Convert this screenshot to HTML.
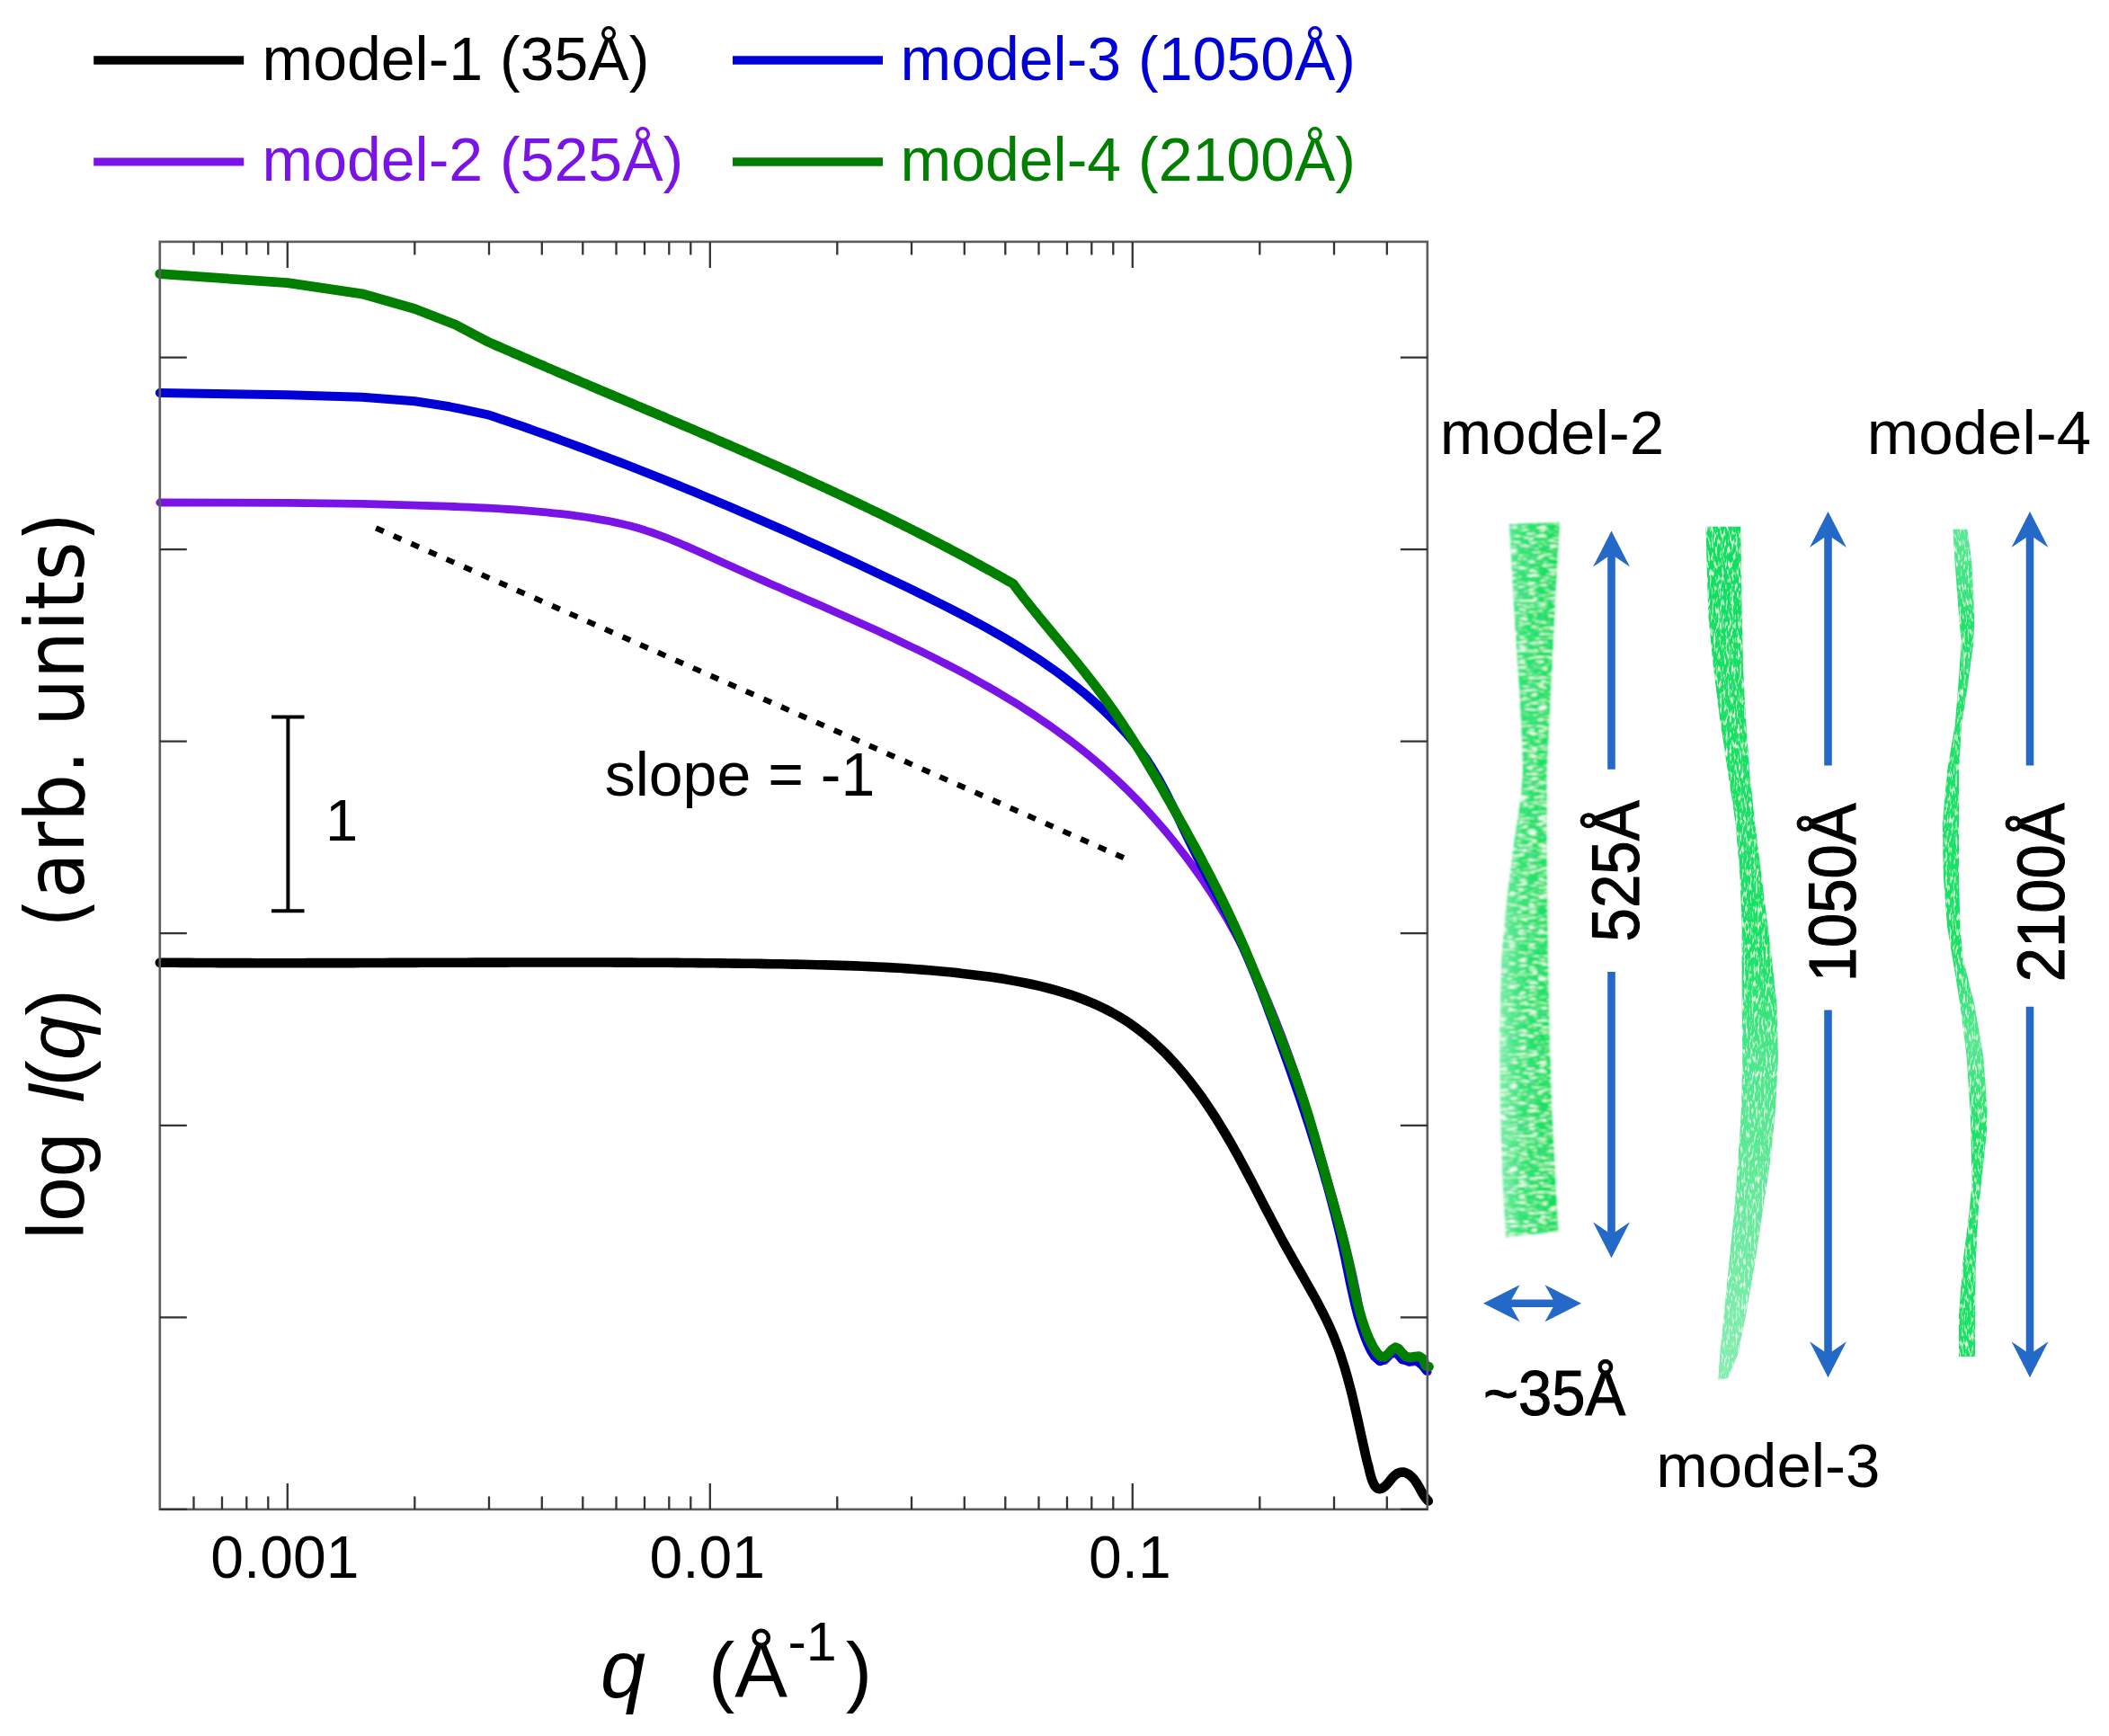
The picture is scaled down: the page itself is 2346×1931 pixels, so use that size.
<!DOCTYPE html>
<html><head><meta charset="utf-8"><title>figure</title><style>html,body{margin:0;padding:0;background:#fff}</style></head><body>
<svg width="2346" height="1931" viewBox="0 0 2346 1931" style="display:block;font-family:'Liberation Sans',sans-serif">
<defs>
<linearGradient id="g2" gradientUnits="userSpaceOnUse" x1="1668" y1="0" x2="1735" y2="0"><stop offset="0" stop-color="#7ceea9"/><stop offset="0.38" stop-color="#2be572"/><stop offset="1" stop-color="#08e05a"/></linearGradient>
<linearGradient id="g3" gradientUnits="userSpaceOnUse" x1="0" y1="586" x2="0" y2="1535"><stop offset="0" stop-color="#10df62"/><stop offset="0.5" stop-color="#16e266"/><stop offset="0.62" stop-color="#48e888"/><stop offset="1" stop-color="#86efb0"/></linearGradient>
<linearGradient id="g4" gradientUnits="userSpaceOnUse" x1="0" y1="588" x2="0" y2="1510"><stop offset="0" stop-color="#5aea94"/><stop offset="0.12" stop-color="#1ee36a"/><stop offset="0.5" stop-color="#14e264"/><stop offset="0.62" stop-color="#55e98f"/><stop offset="0.72" stop-color="#1ee36a"/><stop offset="1" stop-color="#14e264"/></linearGradient>
<filter id="fib2" x="-10%" y="-1%" width="120%" height="102%">
<feTurbulence type="fractalNoise" baseFrequency="0.09 0.43" numOctaves="2" seed="4" result="n"/>
<feColorMatrix in="n" type="matrix" values="0 0 0 0 1  0 0 0 0 1  0 0 0 0 1  5 0 0 0 -2.65" result="w"/>
<feComposite in="w" in2="SourceGraphic" operator="in" result="ww"/>
<feColorMatrix in="n" type="matrix" values="0 0 0 0 0.2  0 0 0 0 0.55  0 0 0 0 0.6  0 0 4 0 -2.5" result="d"/>
<feComposite in="d" in2="SourceGraphic" operator="in" result="dd"/>
<feMerge result="m"><feMergeNode in="SourceGraphic"/><feMergeNode in="dd"/><feMergeNode in="ww"/></feMerge>
<feGaussianBlur in="m" stdDeviation="0.8"/>
</filter>
<filter id="fib3" x="-10%" y="-1%" width="120%" height="102%">
<feTurbulence type="fractalNoise" baseFrequency="0.45 0.12" numOctaves="2" seed="11" result="n"/>
<feColorMatrix in="n" type="matrix" values="0 0 0 0 1  0 0 0 0 1  0 0 0 0 1  3 0 0 0 -1.55" result="w"/>
<feComposite in="w" in2="SourceGraphic" operator="in" result="ww"/>
<feColorMatrix in="n" type="matrix" values="0 0 0 0 0.2  0 0 0 0 0.5  0 0 0 0 0.75  0 0 4 0 -2.55" result="d"/>
<feComposite in="d" in2="SourceGraphic" operator="in" result="dd"/>
<feMerge result="m"><feMergeNode in="SourceGraphic"/><feMergeNode in="dd"/><feMergeNode in="ww"/></feMerge>
<feGaussianBlur in="m" stdDeviation="0.7"/>
</filter>
</defs>
<rect width="2346" height="1931" fill="#fff"/>
<g fill="none" stroke-linejoin="round" stroke-linecap="round">
<path d="M177.8,559.0 L319.9,559.3 L402.6,560.3 L411.2,560.6 L419.9,560.9 L428.5,561.2 L437.1,561.4 L445.6,561.7 L454.2,561.9 L462.7,562.1 L471.3,562.4 L479.8,562.7 L488.3,562.9 L496.8,563.2 L505.3,563.5 L513.8,563.8 L522.3,564.2 L530.8,564.6 L539.3,565.0 L547.8,565.4 L556.3,565.9 L564.8,566.5 L573.3,567.0 L581.9,567.7 L590.4,568.4 L598.9,569.1 L607.5,569.9 L616.0,570.8 L624.6,571.7 L633.2,572.7 L641.8,573.8 L650.4,575.0 L658.9,576.3 L667.5,577.8 L676.0,579.3 L684.4,581.1 L692.8,583.0 L701.2,585.0 L709.4,587.3 L717.6,589.8 L725.6,592.5 L733.6,595.3 L741.5,598.3 L749.3,601.5 L757.1,604.7 L764.9,608.1 L772.6,611.5 L780.4,615.0 L788.1,618.6 L795.8,622.1 L803.5,625.6 L811.3,629.1 L819.1,632.6 L826.9,636.1 L834.7,639.5 L842.5,643.0 L850.3,646.4 L858.2,649.9 L866.1,653.3 L873.9,656.7 L881.8,660.1 L889.7,663.5 L897.6,667.0 L905.5,670.4 L913.4,673.8 L921.2,677.3 L929.1,680.7 L937.0,684.2 L944.9,687.7 L952.8,691.2 L960.6,694.7 L968.5,698.3 L976.3,701.8 L984.1,705.4 L991.9,709.1 L999.7,712.7 L1007.5,716.4 L1015.2,720.1 L1023.0,723.8 L1030.7,727.6 L1038.4,731.4 L1046.0,735.3 L1053.7,739.2 L1061.3,743.2 L1068.8,747.2 L1076.4,751.2 L1083.9,755.3 L1091.3,759.5 L1098.7,763.7 L1106.1,767.9 L1113.5,772.3 L1120.8,776.7 L1128.0,781.1 L1135.3,785.6 L1142.4,790.2 L1149.5,794.8 L1156.6,799.6 L1163.6,804.4 L1170.6,809.2 L1177.5,814.2 L1184.4,819.2 L1191.1,824.3 L1197.9,829.5 L1204.6,834.8 L1211.2,840.1 L1217.7,845.6 L1224.2,851.1 L1230.6,856.8 L1236.9,862.5 L1243.2,868.3 L1249.4,874.2 L1255.5,880.2 L1261.6,886.3 L1267.6,892.4 L1273.5,898.7 L1279.3,905.0 L1285.0,911.4 L1290.7,917.9 L1296.3,924.4 L1301.8,931.0 L1307.2,937.7 L1312.5,944.4 L1317.8,951.3 L1322.9,958.1 L1328.0,965.1 L1333.0,972.1 L1337.9,979.1 L1342.7,986.2 L1347.4,993.4 L1352.0,1000.6 L1356.5,1007.9 L1360.9,1015.2 L1365.3,1022.6 L1369.5,1030.0 L1373.6,1037.4 L1377.7,1044.9 L1381.7,1052.5 L1385.5,1060.1 L1389.3,1067.7 L1393.1,1075.4 L1396.7,1083.1 L1400.3,1090.8 L1403.8,1098.6 L1407.2,1106.4 L1410.5,1114.2 L1413.8,1122.1 L1417.0,1130.0 L1420.2,1137.9 L1423.3,1145.8 L1426.4,1153.8 L1429.3,1161.8 L1432.3,1169.9 L1435.2,1177.9 L1438.0,1186.0 L1440.8,1194.1 L1443.5,1202.2 L1446.2,1210.3 L1448.9,1218.5 L1451.5,1226.6 L1454.1,1234.8 L1456.6,1243.0 L1459.1,1251.2 L1461.6,1259.4 L1464.1,1267.6 L1466.5,1275.9 L1468.9,1284.1 L1471.3,1292.4 L1473.7,1300.6 L1476.1,1308.9 L1478.4,1317.1 L1480.7,1325.4 L1483.1,1333.6 L1485.4,1341.9 L1487.6,1350.1 L1489.9,1358.4 L1492.1,1366.7 L1494.3,1375.0 L1496.4,1383.2 L1498.5,1391.5 L1500.5,1399.8 L1502.5,1408.1 L1504.4,1416.4 L1506.2,1424.7 L1508.0,1433.1 L1509.7,1441.4 L1511.2,1449.8 L1512.7,1458.2 L1514.2,1466.5 L1515.8,1474.9 L1517.9,1483.2 L1520.5,1491.3 L1523.9,1499.3 L1528.3,1507.1 L1534.0,1514.1 L1540.5,1513.6 L1547.4,1506.5 L1553.8,1505.3 L1560.0,1512.0 L1567.4,1515.6 L1575.9,1514.3 L1582.8,1519.2 L1588.2,1526.0" stroke="#7a14e6" stroke-width="8.8"/>
<path d="M177.8,437.0 L319.9,439.2 L402.6,441.7 L461.3,446.2 L500.0,452.3 L541.8,461.1 L549.6,463.6 L557.3,466.2 L565.0,468.8 L572.8,471.5 L580.5,474.1 L588.2,476.8 L595.9,479.6 L603.6,482.3 L611.3,485.0 L618.9,487.8 L626.6,490.6 L634.3,493.4 L641.9,496.2 L649.6,499.0 L657.2,501.9 L664.8,504.8 L672.5,507.7 L680.1,510.6 L687.7,513.5 L695.3,516.4 L702.9,519.4 L710.5,522.3 L718.1,525.3 L725.7,528.3 L733.3,531.4 L740.8,534.4 L748.4,537.5 L755.9,540.5 L763.5,543.6 L771.0,546.7 L778.6,549.8 L786.1,553.0 L793.6,556.1 L801.2,559.3 L808.7,562.4 L816.2,565.6 L823.7,568.8 L831.2,572.1 L838.7,575.3 L846.2,578.6 L853.7,581.8 L861.1,585.1 L868.6,588.4 L876.1,591.7 L883.5,595.0 L891.0,598.4 L898.4,601.7 L905.9,605.1 L913.3,608.5 L920.7,611.8 L928.2,615.3 L935.6,618.7 L943.0,622.1 L950.4,625.6 L957.8,629.0 L965.2,632.5 L972.6,636.0 L980.0,639.5 L987.4,643.0 L994.8,646.5 L1002.2,650.0 L1009.6,653.6 L1016.9,657.1 L1024.3,660.7 L1031.6,664.3 L1039.0,667.9 L1046.3,671.6 L1053.6,675.3 L1060.9,679.0 L1068.2,682.7 L1075.4,686.5 L1082.6,690.3 L1089.8,694.2 L1097.0,698.1 L1104.1,702.1 L1111.2,706.2 L1118.2,710.2 L1125.2,714.4 L1132.2,718.6 L1139.1,722.9 L1145.9,727.3 L1152.8,731.7 L1159.5,736.2 L1166.2,740.8 L1172.9,745.5 L1179.5,750.3 L1186.0,755.2 L1192.4,760.1 L1198.8,765.2 L1205.2,770.3 L1211.4,775.6 L1217.6,781.0 L1223.7,786.5 L1229.7,792.1 L1235.6,797.8 L1241.4,803.6 L1247.0,809.5 L1252.6,815.6 L1257.9,821.8 L1263.1,828.1 L1268.1,834.6 L1272.9,841.2 L1277.5,847.9 L1281.9,854.7 L1286.1,861.7 L1290.1,868.8 L1294.0,875.9 L1297.8,883.1 L1301.4,890.4 L1305.0,897.8 L1308.5,905.2 L1312.0,912.6 L1315.5,920.0 L1319.0,927.4 L1322.6,934.7 L1326.2,942.1 L1329.9,949.4 L1333.6,956.7 L1337.3,963.9 L1341.1,971.2 L1344.9,978.4 L1348.8,985.6 L1352.6,992.8 L1356.4,1000.1 L1360.1,1007.3 L1363.9,1014.5 L1367.6,1021.8 L1371.2,1029.1 L1374.7,1036.4 L1378.2,1043.8 L1381.6,1051.2 L1384.9,1058.7 L1388.2,1066.2 L1391.4,1073.7 L1394.5,1081.2 L1397.6,1088.8 L1400.6,1096.4 L1403.6,1104.0 L1406.5,1111.6 L1409.4,1119.3 L1412.2,1126.9 L1415.1,1134.6 L1417.9,1142.3 L1420.7,1150.0 L1423.5,1157.7 L1426.2,1165.3 L1429.0,1173.0 L1431.7,1180.7 L1434.5,1188.4 L1437.2,1196.1 L1439.9,1203.8 L1442.5,1211.5 L1445.2,1219.2 L1447.8,1227.0 L1450.4,1234.7 L1452.9,1242.4 L1455.5,1250.2 L1458.0,1257.9 L1460.4,1265.7 L1462.9,1273.5 L1465.3,1281.3 L1467.7,1289.1 L1470.0,1296.9 L1472.3,1304.7 L1474.5,1312.6 L1476.8,1320.4 L1478.9,1328.3 L1481.0,1336.2 L1483.1,1344.1 L1485.2,1352.0 L1487.1,1359.9 L1489.1,1367.8 L1491.0,1375.8 L1492.8,1383.8 L1494.6,1391.8 L1496.3,1399.8 L1497.9,1407.9 L1499.6,1415.9 L1501.2,1424.0 L1502.9,1432.0 L1504.7,1440.0 L1506.5,1447.9 L1508.4,1455.8 L1510.5,1463.7 L1512.8,1471.4 L1515.3,1479.1 L1518.0,1486.7 L1521.0,1494.2 L1524.4,1501.5 L1529.0,1508.9 L1535.2,1514.1 L1541.8,1510.3 L1548.1,1503.8 L1553.9,1505.5 L1559.9,1512.4 L1567.5,1513.9 L1575.5,1513.1 L1581.8,1518.4 L1587.0,1524.7" stroke="#0000d6" stroke-width="10"/>
<path d="M177.8,304.7 L319.9,314.7 L402.6,326.8 L461.3,343.5 L506.8,361.2 L541.8,379.8 L544.8,381.1 L547.7,382.4 L550.7,383.7 L553.6,385.0 L556.6,386.3 L559.6,387.6 L562.5,388.9 L565.5,390.1 L568.5,391.4 L571.4,392.7 L574.4,394.0 L577.4,395.3 L580.3,396.6 L583.3,397.9 L586.3,399.1 L589.2,400.4 L592.2,401.7 L595.2,403.0 L598.1,404.3 L601.1,405.5 L604.1,406.8 L607.1,408.1 L610.0,409.4 L613.0,410.6 L616.0,411.9 L619.0,413.2 L621.9,414.4 L624.9,415.7 L627.9,417.0 L630.9,418.3 L633.9,419.5 L636.8,420.8 L639.8,422.1 L642.8,423.3 L645.8,424.6 L648.8,425.9 L651.7,427.1 L654.7,428.4 L657.7,429.7 L660.7,430.9 L663.7,432.2 L666.6,433.5 L669.6,434.7 L672.6,436.0 L675.6,437.3 L678.6,438.5 L681.6,439.8 L684.5,441.0 L687.5,442.3 L690.5,443.6 L693.5,444.8 L696.5,446.1 L699.5,447.4 L702.4,448.6 L705.4,449.9 L708.4,451.2 L711.4,452.4 L714.4,453.7 L717.4,455.0 L720.4,456.2 L723.3,457.5 L726.3,458.8 L729.3,460.0 L732.3,461.3 L735.3,462.6 L738.3,463.8 L741.2,465.1 L744.2,466.4 L747.2,467.7 L750.2,468.9 L753.2,470.2 L756.2,471.5 L759.1,472.7 L762.1,474.0 L765.1,475.3 L768.1,476.6 L771.1,477.8 L774.0,479.1 L777.0,480.4 L780.0,481.7 L783.0,483.0 L786.0,484.2 L788.9,485.5 L791.9,486.8 L794.9,488.1 L797.9,489.4 L800.9,490.7 L803.8,492.0 L806.8,493.2 L809.8,494.5 L812.8,495.8 L815.7,497.1 L818.7,498.4 L821.7,499.7 L824.7,501.0 L827.6,502.3 L830.6,503.6 L833.6,504.9 L836.5,506.2 L839.5,507.5 L842.5,508.8 L845.4,510.1 L848.4,511.4 L851.4,512.7 L854.3,514.1 L857.3,515.4 L860.3,516.7 L863.2,518.0 L866.2,519.3 L869.2,520.6 L872.1,522.0 L875.1,523.3 L878.0,524.6 L881.0,526.0 L884.0,527.3 L886.9,528.6 L889.9,530.0 L892.8,531.3 L895.8,532.6 L898.7,534.0 L901.7,535.3 L904.6,536.7 L907.6,538.0 L910.5,539.4 L913.5,540.7 L916.4,542.1 L919.4,543.4 L922.3,544.8 L925.2,546.1 L928.2,547.5 L931.1,548.9 L934.1,550.2 L937.0,551.6 L939.9,553.0 L942.9,554.4 L945.8,555.7 L948.7,557.1 L951.7,558.5 L954.6,559.9 L957.5,561.3 L960.4,562.7 L963.4,564.1 L966.3,565.5 L969.2,566.9 L972.1,568.3 L975.0,569.7 L978.0,571.1 L980.9,572.5 L983.8,573.9 L986.7,575.4 L989.6,576.8 L992.5,578.2 L995.4,579.6 L998.3,581.1 L1001.2,582.5 L1004.1,583.9 L1007.0,585.4 L1009.9,586.8 L1012.8,588.3 L1015.7,589.7 L1018.6,591.2 L1021.5,592.6 L1024.4,594.1 L1027.3,595.6 L1030.2,597.0 L1033.1,598.5 L1035.9,600.0 L1038.8,601.5 L1041.7,603.0 L1044.6,604.5 L1047.5,605.9 L1050.3,607.4 L1053.2,608.9 L1056.1,610.4 L1058.9,612.0 L1061.8,613.5 L1064.7,615.0 L1067.5,616.5 L1070.4,618.0 L1073.2,619.5 L1076.1,621.1 L1078.9,622.6 L1081.8,624.2 L1084.6,625.7 L1087.5,627.2 L1090.3,628.8 L1093.2,630.4 L1096.0,631.9 L1098.8,633.5 L1101.7,635.1 L1104.5,636.6 L1107.3,638.2 L1110.2,639.8 L1113.0,641.4 L1115.8,643.0 L1118.6,644.6 L1121.4,646.2 L1124.3,647.8 L1127.1,649.4 L1130.1,653.6 L1133.2,657.7 L1136.4,661.8 L1139.5,665.9 L1142.8,669.9 L1146.0,674.0 L1149.2,678.0 L1152.5,682.0 L1155.7,686.0 L1159.0,690.0 L1162.3,694.0 L1165.6,698.0 L1168.9,702.0 L1172.2,706.0 L1175.6,710.0 L1178.9,714.0 L1182.2,717.9 L1185.5,721.9 L1188.8,725.9 L1192.1,729.9 L1195.4,733.9 L1198.7,738.0 L1201.9,742.0 L1205.2,746.0 L1208.4,750.1 L1211.6,754.1 L1214.8,758.2 L1218.0,762.3 L1221.1,766.4 L1224.2,770.5 L1227.3,774.7 L1230.4,778.9 L1233.4,783.1 L1236.4,787.3 L1239.4,791.5 L1242.3,795.7 L1245.2,800.0 L1248.1,804.3 L1250.9,808.6 L1253.8,812.9 L1256.6,817.3 L1259.4,821.6 L1262.1,826.0 L1264.9,830.4 L1267.6,834.8 L1270.3,839.2 L1273.0,843.6 L1275.6,848.0 L1278.3,852.5 L1280.9,856.9 L1283.6,861.4 L1286.2,865.8 L1288.8,870.3 L1291.4,874.8 L1294.0,879.3 L1296.5,883.8 L1299.1,888.3 L1301.7,892.8 L1304.2,897.3 L1306.8,901.8 L1309.3,906.3 L1311.8,910.8 L1314.4,915.4 L1316.9,919.9 L1319.4,924.4 L1321.9,929.0 L1324.4,933.5 L1326.9,938.0 L1329.4,942.6 L1331.8,947.1 L1334.3,951.7 L1336.7,956.3 L1339.1,960.9 L1341.5,965.4 L1343.9,970.0 L1346.3,974.6 L1348.7,979.2 L1351.0,983.8 L1353.4,988.4 L1355.7,993.1 L1358.0,997.7 L1360.3,1002.3 L1362.5,1007.0 L1364.8,1011.7 L1367.0,1016.3 L1369.2,1021.0 L1371.4,1025.7 L1373.6,1030.4 L1375.7,1035.1 L1377.8,1039.8 L1379.9,1044.5 L1382.0,1049.2 L1384.1,1054.0 L1386.1,1058.7 L1388.1,1063.5 L1390.1,1068.2 L1392.1,1073.0 L1394.1,1077.8 L1396.1,1082.6 L1398.0,1087.3 L1400.0,1092.1 L1401.9,1096.9 L1403.8,1101.7 L1405.7,1106.5 L1407.6,1111.3 L1409.5,1116.2 L1411.4,1121.0 L1413.3,1125.8 L1415.2,1130.6 L1417.1,1135.4 L1419.0,1140.2 L1420.8,1145.1 L1422.7,1149.9 L1424.6,1154.7 L1426.5,1159.5 L1428.4,1164.3 L1430.3,1169.2 L1432.1,1174.0 L1434.0,1178.8 L1435.8,1183.7 L1437.7,1188.5 L1439.5,1193.4 L1441.2,1198.2 L1443.0,1203.1 L1444.7,1208.0 L1446.4,1212.9 L1448.0,1217.8 L1449.7,1222.7 L1451.3,1227.6 L1452.8,1232.5 L1454.4,1237.5 L1455.9,1242.4 L1457.4,1247.4 L1458.9,1252.3 L1460.3,1257.3 L1461.8,1262.3 L1463.2,1267.2 L1464.6,1272.2 L1466.1,1277.2 L1467.5,1282.2 L1468.8,1287.2 L1470.2,1292.2 L1471.6,1297.1 L1473.0,1302.1 L1474.4,1307.1 L1475.8,1312.1 L1477.2,1317.1 L1478.6,1322.0 L1480.0,1327.0 L1481.4,1332.0 L1482.8,1336.9 L1484.2,1341.9 L1485.6,1346.9 L1487.0,1351.8 L1488.4,1356.8 L1489.8,1361.8 L1491.1,1366.8 L1492.5,1371.8 L1493.8,1376.8 L1495.1,1381.8 L1496.3,1386.8 L1497.5,1391.9 L1498.7,1396.9 L1499.8,1402.0 L1500.9,1407.1 L1502.0,1412.2 L1503.0,1417.3 L1504.1,1422.4 L1505.1,1427.5 L1506.2,1432.6 L1507.3,1437.7 L1508.5,1442.8 L1509.6,1447.8 L1510.9,1452.8 L1512.2,1457.8 L1513.6,1462.8 L1515.0,1467.7 L1516.6,1472.5 L1518.3,1477.3 L1520.0,1482.1 L1521.9,1486.8 L1524.0,1491.4 L1526.3,1496.0 L1528.9,1500.7 L1532.2,1505.4 L1536.1,1509.1 L1540.2,1509.4 L1544.4,1505.8 L1548.4,1501.2 L1552.3,1498.7 L1555.9,1500.4 L1559.6,1504.8 L1563.7,1508.8 L1568.4,1510.1 L1573.6,1509.1 L1578.6,1508.7 L1582.8,1511.5 L1585.8,1519.0 L1589.4,1520.4" stroke="#007f00" stroke-width="10.8"/>
<path d="M177.8,1070.7 L186.1,1070.8 L194.3,1070.8 L202.6,1070.9 L210.9,1070.9 L219.1,1071.0 L227.4,1071.0 L235.7,1071.0 L244.0,1071.1 L252.3,1071.1 L260.5,1071.1 L268.8,1071.1 L277.1,1071.1 L285.4,1071.2 L293.8,1071.2 L302.1,1071.2 L310.4,1071.2 L318.7,1071.2 L327.0,1071.2 L335.3,1071.2 L343.6,1071.1 L352.0,1071.1 L360.3,1071.1 L368.6,1071.1 L377.0,1071.1 L385.3,1071.1 L393.6,1071.1 L402.0,1071.0 L410.3,1071.0 L418.6,1071.0 L427.0,1071.0 L435.3,1070.9 L443.7,1070.9 L452.0,1070.9 L460.4,1070.9 L468.7,1070.8 L477.1,1070.8 L485.4,1070.8 L493.8,1070.7 L502.1,1070.7 L510.5,1070.7 L518.8,1070.7 L527.2,1070.6 L535.5,1070.6 L543.9,1070.6 L552.2,1070.6 L560.6,1070.6 L568.9,1070.5 L577.3,1070.5 L585.6,1070.5 L594.0,1070.5 L602.3,1070.5 L610.7,1070.5 L619.0,1070.5 L627.4,1070.5 L635.7,1070.5 L644.1,1070.5 L652.4,1070.5 L660.8,1070.5 L669.1,1070.5 L677.4,1070.5 L685.8,1070.6 L694.1,1070.6 L702.4,1070.6 L710.8,1070.7 L719.1,1070.7 L727.4,1070.7 L735.7,1070.8 L744.1,1070.8 L752.4,1070.9 L760.7,1071.0 L769.0,1071.0 L777.3,1071.1 L785.6,1071.2 L793.9,1071.3 L802.2,1071.4 L810.5,1071.5 L818.8,1071.6 L827.1,1071.7 L835.4,1071.8 L843.7,1071.9 L851.9,1072.1 L860.2,1072.2 L868.5,1072.3 L876.7,1072.5 L885.0,1072.6 L893.3,1072.8 L901.5,1073.0 L909.8,1073.2 L918.0,1073.4 L926.3,1073.6 L934.5,1073.9 L942.8,1074.1 L951.0,1074.4 L959.3,1074.8 L967.5,1075.1 L975.8,1075.5 L984.1,1075.9 L992.3,1076.4 L1000.6,1076.8 L1008.9,1077.4 L1017.2,1078.0 L1025.5,1078.6 L1033.8,1079.2 L1042.1,1080.0 L1050.4,1080.7 L1058.8,1081.6 L1067.1,1082.4 L1075.5,1083.4 L1083.9,1084.4 L1092.3,1085.5 L1100.7,1086.6 L1109.1,1087.8 L1117.5,1089.1 L1125.8,1090.6 L1134.2,1092.1 L1142.5,1093.7 L1150.7,1095.5 L1158.9,1097.4 L1167.1,1099.5 L1175.1,1101.7 L1183.2,1104.1 L1191.1,1106.6 L1198.9,1109.3 L1206.6,1112.3 L1214.3,1115.4 L1221.8,1118.7 L1229.2,1122.2 L1236.4,1126.0 L1243.5,1130.0 L1250.5,1134.2 L1257.3,1138.7 L1264.0,1143.5 L1270.5,1148.4 L1276.8,1153.6 L1283.1,1159.0 L1289.1,1164.6 L1295.1,1170.3 L1300.9,1176.3 L1306.5,1182.4 L1312.0,1188.6 L1317.4,1195.0 L1322.7,1201.5 L1327.9,1208.2 L1332.9,1214.9 L1337.8,1221.7 L1342.6,1228.7 L1347.2,1235.6 L1351.8,1242.7 L1356.2,1249.7 L1360.6,1256.9 L1364.8,1264.0 L1369.0,1271.2 L1373.1,1278.5 L1377.2,1285.7 L1381.1,1293.0 L1385.1,1300.4 L1388.9,1307.7 L1392.8,1315.0 L1396.6,1322.4 L1400.4,1329.7 L1404.2,1337.1 L1408.0,1344.5 L1411.9,1351.8 L1415.7,1359.2 L1419.6,1366.5 L1423.5,1373.9 L1427.4,1381.2 L1431.4,1388.4 L1435.5,1395.7 L1439.6,1402.9 L1443.7,1410.1 L1447.9,1417.4 L1452.0,1424.6 L1456.1,1431.8 L1460.2,1439.1 L1464.2,1446.3 L1468.1,1453.7 L1471.9,1461.1 L1475.6,1468.5 L1479.1,1476.0 L1482.4,1483.6 L1485.5,1491.3 L1488.4,1499.0 L1491.2,1506.9 L1493.7,1514.8 L1496.2,1522.7 L1498.5,1530.8 L1500.7,1538.8 L1502.8,1546.9 L1504.8,1555.0 L1506.7,1563.2 L1508.6,1571.3 L1510.4,1579.5 L1512.2,1587.7 L1514.0,1595.8 L1515.8,1603.9 L1517.6,1612.0 L1519.4,1620.1 L1521.3,1628.1 L1521.4,1628.2 L1521.5,1628.4 L1521.5,1628.6 L1521.6,1628.8 L1521.7,1629.1 L1521.8,1629.4 L1521.9,1629.8 L1522.0,1630.2 L1522.1,1630.6 L1522.2,1631.0 L1522.3,1631.5 L1522.4,1631.9 L1522.5,1632.5 L1522.7,1633.0 L1522.8,1633.5 L1522.9,1634.1 L1523.0,1634.7 L1523.2,1635.3 L1523.3,1635.9 L1523.5,1636.6 L1523.6,1637.2 L1523.8,1637.9 L1524.0,1638.5 L1524.1,1639.2 L1524.3,1639.9 L1524.5,1640.6 L1524.7,1641.3 L1524.9,1642.0 L1525.1,1642.7 L1525.3,1643.3 L1525.5,1644.0 L1525.7,1644.7 L1525.9,1645.4 L1526.2,1646.1 L1526.4,1646.7 L1526.7,1647.4 L1526.9,1648.0 L1527.2,1648.6 L1527.5,1649.2 L1527.7,1649.8 L1528.0,1650.4 L1528.3,1651.0 L1528.6,1651.5 L1528.9,1652.0 L1529.2,1652.5 L1529.5,1653.0 L1529.9,1653.4 L1530.2,1653.8 L1530.6,1654.2 L1530.9,1654.6 L1531.3,1654.9 L1531.7,1655.2 L1532.0,1655.4 L1532.4,1655.6 L1532.8,1655.8 L1533.2,1655.9 L1533.7,1656.0 L1534.1,1656.1 L1534.5,1656.1 L1535.0,1656.1 L1535.4,1656.0 L1535.9,1655.9 L1536.3,1655.7 L1536.8,1655.6 L1537.3,1655.4 L1537.7,1655.1 L1538.2,1654.9 L1538.7,1654.6 L1539.1,1654.3 L1539.6,1654.0 L1540.0,1653.7 L1540.5,1653.3 L1540.9,1652.9 L1541.3,1652.5 L1541.7,1652.2 L1542.2,1651.7 L1542.6,1651.3 L1543.0,1650.9 L1543.4,1650.5 L1543.7,1650.0 L1544.1,1649.6 L1544.5,1649.1 L1544.9,1648.7 L1545.2,1648.2 L1545.6,1647.8 L1546.0,1647.3 L1546.3,1646.8 L1546.7,1646.4 L1547.1,1645.9 L1547.4,1645.4 L1547.8,1645.0 L1548.2,1644.5 L1548.5,1644.1 L1548.9,1643.7 L1549.3,1643.2 L1549.7,1642.8 L1550.1,1642.4 L1550.5,1642.0 L1550.9,1641.6 L1551.3,1641.2 L1551.7,1640.9 L1552.2,1640.5 L1552.6,1640.2 L1553.1,1639.9 L1553.5,1639.6 L1554.0,1639.3 L1554.4,1639.0 L1554.9,1638.8 L1555.4,1638.5 L1555.9,1638.3 L1556.4,1638.1 L1556.9,1638.0 L1557.4,1637.8 L1557.9,1637.7 L1558.4,1637.6 L1558.9,1637.6 L1559.4,1637.5 L1559.9,1637.5 L1560.4,1637.5 L1560.9,1637.6 L1561.4,1637.6 L1562.0,1637.7 L1562.5,1637.9 L1563.0,1638.0 L1563.5,1638.2 L1564.0,1638.4 L1564.5,1638.6 L1565.0,1638.8 L1565.5,1639.1 L1566.0,1639.4 L1566.4,1639.6 L1566.9,1639.9 L1567.4,1640.3 L1567.8,1640.6 L1568.3,1640.9 L1568.7,1641.3 L1569.2,1641.7 L1569.6,1642.0 L1570.0,1642.4 L1570.4,1642.8 L1570.8,1643.2 L1571.2,1643.6 L1571.6,1644.0 L1572.0,1644.4 L1572.4,1644.8 L1572.7,1645.2 L1573.1,1645.7 L1573.4,1646.1 L1573.7,1646.5 L1574.1,1647.0 L1574.4,1647.4 L1574.7,1647.9 L1575.0,1648.3 L1575.3,1648.8 L1575.6,1649.3 L1575.9,1649.7 L1576.2,1650.2 L1576.5,1650.7 L1576.8,1651.2 L1577.1,1651.6 L1577.4,1652.1 L1577.7,1652.6 L1577.9,1653.1 L1578.2,1653.6 L1578.5,1654.0 L1578.8,1654.5 L1579.0,1655.0 L1579.3,1655.5 L1579.6,1656.0 L1579.8,1656.5 L1580.1,1657.0 L1580.4,1657.5 L1580.6,1657.9 L1580.9,1658.4 L1581.2,1658.9 L1581.4,1659.4 L1581.7,1659.9 L1582.0,1660.3 L1582.3,1660.8 L1582.5,1661.3 L1582.8,1661.8 L1583.1,1662.2 L1583.4,1662.7 L1583.7,1663.2 L1584.0,1663.6 L1584.3,1664.1 L1584.6,1664.5 L1584.9,1665.0 L1585.2,1665.4 L1585.6,1665.8 L1585.9,1666.3 L1586.2,1666.7 L1586.6,1667.1 L1586.9,1667.5 L1587.3,1667.9 L1587.7,1668.3 L1588.0,1668.7 L1588.4,1669.1 L1588.8,1669.5" stroke="#000" stroke-width="10.6"/>
</g>
<path d="M418.2,587.4 L1252,955.1" stroke="#000" stroke-width="6.2" stroke-dasharray="9.4 12.02" fill="none"/>
<g stroke="#5c5c5c" stroke-width="2.6" fill="none">
<rect x="177.8" y="268.9" width="1410.0" height="1410.0"/>
<path d="M215.5,268.9v14.5M215.5,1678.9v-14.5M247.0,268.9v14.5M247.0,1678.9v-14.5M274.3,268.9v14.5M274.3,1678.9v-14.5M298.3,268.9v14.5M298.3,1678.9v-14.5M319.8,268.9v29M319.8,1678.9v-29M461.3,268.9v14.5M461.3,1678.9v-14.5M544.0,268.9v14.5M544.0,1678.9v-14.5M602.8,268.9v14.5M602.8,1678.9v-14.5M648.3,268.9v14.5M648.3,1678.9v-14.5M685.5,268.9v14.5M685.5,1678.9v-14.5M717.0,268.9v14.5M717.0,1678.9v-14.5M744.3,268.9v14.5M744.3,1678.9v-14.5M768.3,268.9v14.5M768.3,1678.9v-14.5M789.8,268.9v29M789.8,1678.9v-29M931.3,268.9v14.5M931.3,1678.9v-14.5M1014.0,268.9v14.5M1014.0,1678.9v-14.5M1072.8,268.9v14.5M1072.8,1678.9v-14.5M1118.3,268.9v14.5M1118.3,1678.9v-14.5M1155.5,268.9v14.5M1155.5,1678.9v-14.5M1187.0,268.9v14.5M1187.0,1678.9v-14.5M1214.3,268.9v14.5M1214.3,1678.9v-14.5M1238.3,268.9v14.5M1238.3,1678.9v-14.5M1259.8,268.9v29M1259.8,1678.9v-29M1401.3,268.9v14.5M1401.3,1678.9v-14.5M1484.0,268.9v14.5M1484.0,1678.9v-14.5M1542.8,268.9v14.5M1542.8,1678.9v-14.5M177.8,1678.9h30M1587.8,1678.9h-30M177.8,1465.4h30M1587.8,1465.4h-30M177.8,1251.8h30M1587.8,1251.8h-30M177.8,1038.2h30M1587.8,1038.2h-30M177.8,824.7h30M1587.8,824.7h-30M177.8,611.2h30M1587.8,611.2h-30M177.8,397.6h30M1587.8,397.6h-30" stroke="#333" stroke-width="2.3"/>
</g>
<path d="M302,797.5h36.5M302,1013.2h36.5M320.4,797.5v215.7" stroke="#000" stroke-width="4" fill="none"/>
<text x="291.5" y="88.7" font-size="68" fill="#000" text-anchor="start" >model-1 (35Å)</text>
<text x="291.5" y="201.1" font-size="68" fill="#7a14e6" text-anchor="start" >model-2 (525Å)</text>
<path d="M104.2,66.9h167" stroke="#000" stroke-width="9.5"/>
<path d="M104.2,180h167" stroke="#7a14e6" stroke-width="8.9"/>
<path d="M815,66.9h167" stroke="#0000d6" stroke-width="9.5"/>
<path d="M815,180h167" stroke="#007f00" stroke-width="9.5"/>
<text x="1001.5" y="88.7" font-size="68" fill="#0000d6" text-anchor="start" >model-3 (1050Å)</text>
<text x="1001.5" y="201.1" font-size="68" fill="#007f00" text-anchor="start" >model-4 (2100Å)</text>
<text x="316.8" y="1754.6" font-size="66" fill="#000" text-anchor="middle" >0.001</text>
<text x="786.8" y="1754.6" font-size="66" fill="#000" text-anchor="middle" >0.01</text>
<text x="1256.8" y="1754.6" font-size="66" fill="#000" text-anchor="middle" >0.1</text>
<text x="362" y="935" font-size="65" fill="#000" text-anchor="start" >1</text>
<text x="672.7" y="885" font-size="68" fill="#000" text-anchor="start" >slope = -1</text>
<text y="1887.5" fill="#000"><tspan x="668" font-size="90" font-style="italic">q</tspan><tspan x="788" font-size="88">(Å</tspan><tspan font-size="61" dy="-40.3" dx="0.5">-1</tspan><tspan font-size="88" dy="40.3" dx="10">)</tspan></text>
<text transform="translate(93.4,1378.5) rotate(-90)" font-size="89" fill="#000">log <tspan font-style="italic" dx="6.5">I</tspan><tspan dx="-5">(</tspan><tspan font-style="italic">q</tspan>)</text>
<text transform="translate(93.4,1032) rotate(-90)" font-size="91" fill="#000" font-family="'DejaVu Sans',sans-serif" textLength="462" lengthAdjust="spacingAndGlyphs">(arb. units)</text>
<text x="1601.8" y="504.5" font-size="69" fill="#000" text-anchor="start" >model-2</text>
<text x="2076.8" y="504.5" font-size="69" fill="#000" text-anchor="start" >model-4</text>
<text x="1842.2" y="1653.8" font-size="69" fill="#000" text-anchor="start" >model-3</text>
<text x="1650" y="1574" font-size="70" fill="#000" text-anchor="start" textLength="158" lengthAdjust="spacingAndGlyphs" stroke="#000" stroke-width="1.1">~35Å</text>
<text transform="translate(1822.5,1047.5) rotate(-90)" font-size="73.5" fill="#000" stroke="#000" stroke-width="1.1" textLength="157" lengthAdjust="spacingAndGlyphs">525Å</text>
<text transform="translate(2064.3,1092.3) rotate(-90)" font-size="73.5" fill="#000" stroke="#000" stroke-width="1.1" textLength="199" lengthAdjust="spacingAndGlyphs">1050Å</text>
<text transform="translate(2296.2,1092.3) rotate(-90)" font-size="73.5" fill="#000" stroke="#000" stroke-width="1.1" textLength="199" lengthAdjust="spacingAndGlyphs">2100Å</text>
<path d="M1792.5,855.8V610.6" stroke="#2468c8" stroke-width="8.6" fill="none"/>
<path d="M1792.5,590.6l20.5,40l-20.5,-14l-20.5,14z" fill="#2468c8"/>
<path d="M1792.5,1081V1379.2" stroke="#2468c8" stroke-width="8.6" fill="none"/>
<path d="M1792.5,1399.2l20.5,-40l-20.5,14l-20.5,-14z" fill="#2468c8"/>
<path d="M2033.5,851.5V589" stroke="#2468c8" stroke-width="8.6" fill="none"/>
<path d="M2033.5,569l20.5,40l-20.5,-14l-20.5,14z" fill="#2468c8"/>
<path d="M2033.5,1123.6V1512.2" stroke="#2468c8" stroke-width="8.6" fill="none"/>
<path d="M2033.5,1532.2l20.5,-40l-20.5,14l-20.5,-14z" fill="#2468c8"/>
<path d="M2258,851.5V589" stroke="#2468c8" stroke-width="8.6" fill="none"/>
<path d="M2258,569l20.5,40l-20.5,-14l-20.5,14z" fill="#2468c8"/>
<path d="M2258,1119.8V1512.2" stroke="#2468c8" stroke-width="8.6" fill="none"/>
<path d="M2258,1532.2l20.5,-40l-20.5,14l-20.5,-14z" fill="#2468c8"/>
<path d="M1670,1449.7H1740" stroke="#2468c8" stroke-width="8.6" fill="none"/>
<path d="M1650,1449.7l40.5,-20.5l-11.5,20.5l11.5,20.5z" fill="#2468c8"/>
<path d="M1759,1449.7l-40.5,-20.5l11.5,20.5l-11.5,20.5z" fill="#2468c8"/>
<path d="M1678.8,583.0 L1684.6,685.0 L1690.4,771.0 L1693.2,829.0 L1694.1,858.0 L1691.8,886.5 L1683.2,944.0 L1676.0,1001.7 L1670.2,1065.0 L1668.2,1146.0 L1668.8,1233.0 L1671.7,1319.0 L1675.1,1376.5 L1733.5,1369.5 L1730.6,1319.0 L1726.3,1233.0 L1723.5,1146.0 L1722.0,1065.0 L1721.2,1001.7 L1720.6,944.0 L1720.6,886.5 L1720.6,858.0 L1722.0,829.0 L1724.9,771.0 L1729.2,685.0 L1735.0,581.0Z" fill="url(#g2)" filter="url(#fib2)"/>
<path d="M1897.4,585.8 L1900.3,685.0 L1906.0,742.7 L1913.2,800.2 L1921.9,857.8 L1930.5,915.3 L1935.4,972.9 L1937.7,1030.4 L1937.6,1065.0 L1937.7,1117.6 L1938.3,1175.0 L1937.1,1232.7 L1933.4,1290.2 L1929.1,1347.8 L1923.3,1405.3 L1917.6,1462.9 L1913.2,1506.0 L1911.2,1535.0 L1921.9,1533.0 L1933.4,1506.0 L1942.0,1462.9 L1952.1,1405.3 L1960.7,1347.8 L1969.4,1290.2 L1975.1,1232.7 L1978.0,1175.0 L1976.5,1117.6 L1970.8,1065.0 L1966.5,1030.4 L1959.3,972.9 L1952.1,915.3 L1946.3,857.8 L1942.0,800.2 L1939.1,742.7 L1937.7,685.0 L1936.3,585.8Z" fill="url(#g3)" filter="url(#fib3)"/>
<path d="M2172.4,588.7 L2174.7,627.6 L2179.0,685.0 L2181.9,714.0 L2177.6,771.4 L2174.7,806.0 L2166.0,857.8 L2160.9,915.3 L2161.7,972.9 L2166.0,1030.4 L2171.8,1065.0 L2180.4,1117.6 L2187.6,1175.0 L2191.4,1232.7 L2192.5,1261.4 L2193.4,1319.0 L2190.5,1347.8 L2183.3,1405.3 L2179.0,1462.9 L2179.0,1509.0 L2197.1,1509.0 L2197.1,1462.9 L2197.7,1405.3 L2200.6,1347.8 L2203.5,1319.0 L2209.8,1261.4 L2210.6,1232.7 L2206.3,1175.0 L2196.3,1117.6 L2183.3,1065.0 L2180.4,1030.4 L2179.0,972.9 L2179.0,915.3 L2179.0,857.8 L2181.9,806.0 L2187.6,771.4 L2195.4,714.0 L2196.3,685.0 L2193.4,627.6 L2188.5,588.7Z" fill="url(#g4)" filter="url(#fib3)"/>
</svg>
</body></html>
